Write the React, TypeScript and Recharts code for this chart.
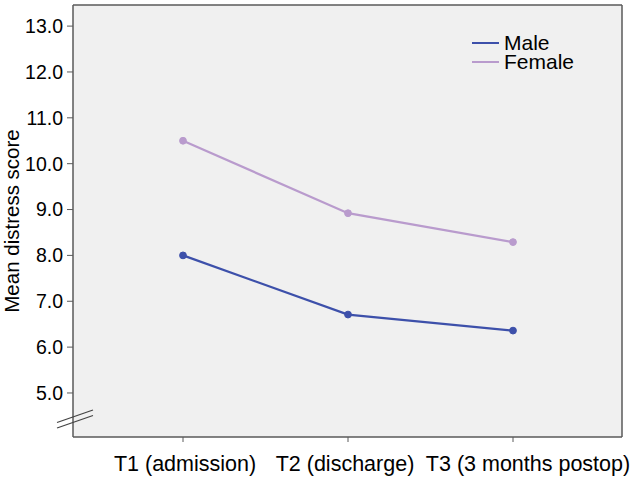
import React from "react";
import { LineChart, Line, XAxis, YAxis, CartesianGrid } from "recharts";

const timepoints = ["T1 (admission)", "T2 (discharge)", "T3 (3 months postop)"];
const maleScores = [8.0, 6.71, 6.36];
const femaleScores = [10.5, 8.92, 8.29];
const yTicks = [5, 6, 7, 8, 9, 10, 11, 12, 13];

const series = [
  { key: "Male", color: "#3d50aa" },
  { key: "Female", color: "#b99bcd" },
];

const data = timepoints.map((t, i) => ({
  time: t,
  Male: maleScores[i],
  Female: femaleScores[i],
}));

const FONT = "'Liberation Sans', Arial, sans-serif";
const BORDER = "#5a5a5a";

// SPSS nudges the category labels a bit (last one is pushed in from the edge)
const labelShift = [2, -3, 15];

const XTick = (props: any) => {
  const { x, y, payload, index } = props;
  return (
    <text
      x={x + (labelShift[index] || 0)}
      y={y}
      dy="0.71em"
      textAnchor="middle"
      fill="#000"
      fontSize={21.5}
      fontFamily={FONT}
    >
      {payload.value}
    </text>
  );
};

export default function App() {
  return (
    <div style={{ position: "absolute", left: 0, top: 0, width: 630, height: 504, background: "#fff" }}>
      <LineChart
        width={630}
        height={504}
        data={data}
        margin={{ top: 5, right: 8, bottom: 27, left: 0 }}
        style={{ fontFamily: FONT }}
      >
        <CartesianGrid
          fill="#f0f0f0"
          stroke={BORDER}
          strokeWidth={1.5}
          horizontalCoordinatesGenerator={({ offset }: any) => [
            offset.top,
            offset.top + offset.height,
          ]}
          verticalCoordinatesGenerator={({ offset }: any) => [
            offset.left,
            offset.left + offset.width,
          ]}
        />
        <XAxis
          dataKey="time"
          height={40}
          padding={{ left: 110, right: 109 }}
          axisLine={false}
          tickSize={5}
          tickMargin={14}
          tickLine={{ stroke: BORDER }}
          tick={<XTick />}
          interval={0}
        />
        <YAxis
          width={73}
          domain={[4.04, 13.46]}
          ticks={yTicks}
          tickFormatter={(v: number) => v.toFixed(1)}
          axisLine={false}
          tickSize={6}
          tickMargin={4}
          tickLine={{ stroke: BORDER }}
          tick={{ fill: "#000", fontSize: 19.5 }}
          label={{
            value: "Mean distress score",
            angle: -90,
            position: "insideLeft",
            offset: 12,
            style: { textAnchor: "middle", fill: "#000", fontSize: 20.5 },
          }}
        />
        {series.map((s) => (
          <Line
            key={s.key}
            dataKey={s.key}
            stroke={s.color}
            strokeWidth={2.2}
            dot={{ r: 3.4, fill: s.color, stroke: s.color, strokeWidth: 1 }}
            isAnimationActive={false}
          />
        ))}
      </LineChart>

      {/* legend, drawn as an overlay so it doesn't eat plot width */}
      <div
        style={{
          position: "absolute",
          left: 472,
          top: 33,
          fontFamily: FONT,
          fontSize: 21,
          color: "#000",
          lineHeight: "19px",
        }}
      >
        {series.map((s) => (
          <div key={s.key} style={{ display: "flex", alignItems: "center", height: 19 }}>
            <span
              style={{
                display: "inline-block",
                width: 27,
                height: 2,
                background: s.color,
                marginRight: 5,
              }}
            />
            <span>{s.key}</span>
          </div>
        ))}
      </div>

      {/* axis break marks */}
      <svg
        width={630}
        height={504}
        style={{ position: "absolute", left: 0, top: 0, pointerEvents: "none" }}
      >
        <line x1={57} y1={422.5} x2={93} y2={410} stroke="#444" strokeWidth={1.3} />
        <line x1={57} y1={428} x2={93} y2={415.5} stroke="#444" strokeWidth={1.3} />
      </svg>
    </div>
  );
}
